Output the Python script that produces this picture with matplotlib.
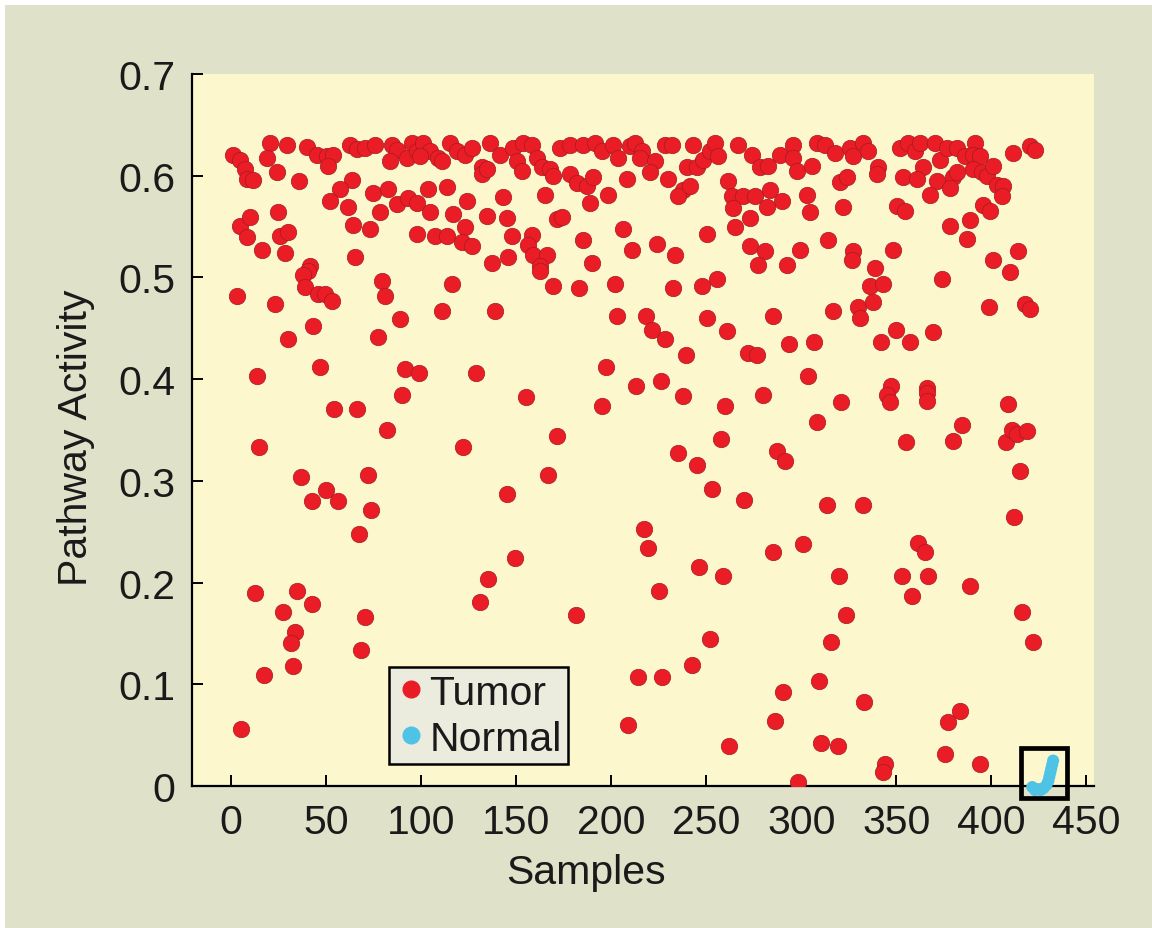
import matplotlib
matplotlib.use("Agg")
import matplotlib.pyplot as plt
from matplotlib.lines import Line2D
from matplotlib.patches import Rectangle

plt.rcParams['font.family'] = ['Liberation Sans', 'DejaVu Sans']

# tumor samples (sample index, pathway activity)
tumor_x = [
    1, 4.7, 7.4, 8.4, 11.6, 20.5, 19, 24, 29.5, 35.8, 40, 45, 50.5, 53.7, 51, 62.6, 66.3, 70.5, 75.8, 63.7,
    57.4, 52, 61.6, 74.7, 82.6, 78.4, 64.2, 73, 84.7, 87.4, 83.7, 92.6, 95.3, 97.9, 87.4, 93.2, 97.9, 97.9,
    4.7, 10, 8.4, 24.7, 25.8, 30, 16.3, 28.4, 65.3, 41.6,
    101, 104.7, 99.5, 109, 111, 115.3, 119, 123, 126.8, 132, 132, 134.7, 136.3, 141.6, 148.4, 153.7, 158.4,
    150.5, 153, 161, 163.7, 168, 169.5, 173, 178.4, 185, 191.6, 195, 201, 203.7, 178.4, 182, 187.4, 190.5,
    208.4, 210, 103.7, 113.7, 124.2, 143.2, 165.3, 189, 198.4, 104.7, 116.8, 134.7, 145.3, 171.6, 174.2,
    123.2, 107.4, 113.7, 147.9, 158.4, 156.3, 121.6, 126.8, 185.3, 206.3, 211, 137.4, 145.8, 159, 166.3,
    162.6, 190,
    212.6, 216.3, 215.3, 223.2, 220.5, 228.4, 232.1, 243.2, 230, 240, 245.3, 248.4, 252.1, 254.7, 256.3,
    266.8, 274.2, 278.4, 282.6, 289, 295.8, 295.8, 297.9, 305.8, 308.4, 312.6, 317.9, 325.8, 327.4, 320.5,
    324.2, 237.9, 235.3, 241.6, 261.6, 263.7, 269.5, 275.8, 264.2, 283.7, 290, 282.1, 303.2, 304.7, 322.1,
    273.2, 265.3, 250.5, 224.2, 233.7, 273.2, 281, 299.5, 314.2, 327.4, 326.8, 277.4, 292.6,
    332.6, 335.3, 340.5, 340, 352.1, 356.3, 360, 362.6, 370.5, 373.2, 376.8, 382.1, 386.3, 391.6, 390.5,
    394.2, 390.5, 395.3, 397.9, 401, 364.2, 353.7, 361, 371.6, 380, 382.1, 378.4, 367.9, 403.2, 406.3,
    405.8, 411.6, 420.5, 423.2, 350.5, 354.7, 395.8, 399.5, 378.4, 388.9, 387.4, 348.4, 414.2, 401, 339,
    40.5, 37.9, 38.9, 45.8, 49.5, 53.2, 3.2, 23.2, 79.5, 81, 116.3, 111, 139, 89, 43.2, 30, 77.4, 46.8,
    91.6, 99, 129, 13.7, 90, 54.2, 66.3, 82.1, 14.7, 122.1, 36.8, 72.1, 50, 42.6, 56.3, 73.7, 67.4,
    162.6, 169.5, 183.2, 202.1, 232.6, 247.9, 255.8, 203.2, 218.4, 221.6, 228.4, 239.5, 250.5, 261, 285.3,
    293.7, 272.1, 276.8, 197.4, 213.2, 226.3, 237.9, 260, 280, 155.3, 195.3, 171.6, 257.9, 235.3, 245.3,
    287.4, 291.6, 166.8, 253.2, 270, 145.3, 217.4,
    336.3, 343.2, 374.2, 410, 316.8, 330, 331, 337.9, 398.9, 417.9, 420.5, 306.8, 342.1, 350, 357.4,
    369.5, 303.7, 321, 347.4, 345.3, 346.8, 366.3, 366.3, 366.3, 409, 308.4, 355.3, 384.7, 380, 407.9,
    411, 413.7, 419, 415.3, 313.7, 332.6, 412.1,
    135.3, 131, 12.6, 34.7, 42.6, 27.4, 33.7, 31.6, 32.6, 70.5, 68.4, 17.4, 5.3,
    219.5, 149.5, 246.3, 259, 225.3, 285.3, 181.6, 252.1, 242.6, 214.2, 226.8, 290.5, 286.3, 209, 262.1,
    298.4,
    301, 361.6, 365.3, 320, 353.2, 366.8, 389, 358.4, 323.7, 416.3, 422.1, 315.8, 309.5, 333.2, 383.7,
    377.4, 310.5, 319.5, 375.8, 394.2, 344.2, 343.2,
]
tumor_y = [
    0.620, 0.615, 0.607, 0.597, 0.596, 0.632, 0.617, 0.604, 0.630, 0.595, 0.628, 0.620, 0.619, 0.620, 0.610,
    0.630, 0.626, 0.627, 0.630, 0.596, 0.587, 0.575, 0.569, 0.583, 0.587, 0.564, 0.552, 0.548, 0.630, 0.625,
    0.614, 0.617, 0.632, 0.624, 0.572, 0.578, 0.573, 0.543, 0.551, 0.559, 0.540, 0.564, 0.541, 0.545, 0.527,
    0.524, 0.520, 0.511,
    0.632, 0.624, 0.619, 0.617, 0.614, 0.632, 0.624, 0.620, 0.627, 0.609, 0.602, 0.607, 0.632, 0.620, 0.627,
    0.632, 0.630, 0.614, 0.605, 0.617, 0.609, 0.607, 0.600, 0.627, 0.630, 0.630, 0.632, 0.624, 0.630, 0.617,
    0.602, 0.593, 0.590, 0.599, 0.597, 0.629, 0.587, 0.589, 0.575, 0.579, 0.581, 0.573, 0.581, 0.564, 0.562,
    0.560, 0.558, 0.557, 0.559, 0.550, 0.541, 0.541, 0.541, 0.542, 0.532, 0.535, 0.531, 0.537, 0.548, 0.527,
    0.514, 0.520, 0.522, 0.522, 0.511, 0.514,
    0.632, 0.624, 0.617, 0.614, 0.604, 0.630, 0.630, 0.630, 0.597, 0.609, 0.609, 0.615, 0.624, 0.632, 0.619,
    0.630, 0.620, 0.609, 0.610, 0.620, 0.630, 0.617, 0.605, 0.610, 0.632, 0.630, 0.622, 0.627, 0.619, 0.594,
    0.599, 0.586, 0.580, 0.590, 0.595, 0.580, 0.580, 0.580, 0.568, 0.586, 0.575, 0.569, 0.581, 0.564, 0.569,
    0.558, 0.550, 0.543, 0.533, 0.522, 0.531, 0.526, 0.527, 0.537, 0.526, 0.517, 0.512, 0.512,
    0.632, 0.624, 0.609, 0.602, 0.627, 0.632, 0.624, 0.632, 0.632, 0.615, 0.627, 0.627, 0.619, 0.632, 0.620,
    0.619, 0.607, 0.604, 0.600, 0.610, 0.609, 0.599, 0.597, 0.595, 0.599, 0.604, 0.588, 0.581, 0.591, 0.590,
    0.580, 0.622, 0.629, 0.625, 0.570, 0.565, 0.571, 0.565, 0.551, 0.556, 0.538, 0.527, 0.526, 0.517, 0.509,
    0.506, 0.502, 0.491, 0.484, 0.484, 0.477, 0.482, 0.474, 0.496, 0.482, 0.494, 0.467, 0.467, 0.459, 0.452,
    0.439, 0.441, 0.412, 0.410, 0.406, 0.406, 0.403, 0.384, 0.371, 0.371, 0.350, 0.333, 0.333, 0.304, 0.306,
    0.291, 0.280, 0.280, 0.271, 0.248,
    0.506, 0.492, 0.490, 0.494, 0.490, 0.492, 0.498, 0.462, 0.462, 0.448, 0.439, 0.424, 0.460, 0.447, 0.462,
    0.435, 0.426, 0.424, 0.412, 0.393, 0.398, 0.383, 0.374, 0.384, 0.382, 0.374, 0.344, 0.341, 0.327, 0.316,
    0.329, 0.320, 0.306, 0.292, 0.281, 0.287, 0.253,
    0.492, 0.494, 0.498, 0.505, 0.467, 0.471, 0.460, 0.476, 0.471, 0.474, 0.469, 0.437, 0.437, 0.448, 0.437,
    0.446, 0.403, 0.378, 0.393, 0.384, 0.378, 0.391, 0.386, 0.379, 0.376, 0.358, 0.338, 0.355, 0.339, 0.338,
    0.350, 0.346, 0.349, 0.310, 0.276, 0.276, 0.264,
    0.204, 0.181, 0.190, 0.192, 0.179, 0.171, 0.151, 0.141, 0.118, 0.166, 0.134, 0.109, 0.056,
    0.234, 0.224, 0.215, 0.206, 0.192, 0.230, 0.168, 0.145, 0.119, 0.107, 0.107, 0.092, 0.064, 0.060, 0.039,
    0.004,
    0.238, 0.239, 0.230, 0.206, 0.206, 0.206, 0.197, 0.187, 0.168, 0.171, 0.142, 0.142, 0.103, 0.083, 0.074,
    0.063, 0.042, 0.039, 0.031, 0.022, 0.022, 0.014,
]

# normal samples
normal_x = [421.5, 423, 424.5, 426, 427.5, 429, 430, 430.5, 431, 431.5, 432, 432.5]
normal_y = [-0.001, -0.004, -0.003, -0.004, -0.002, 0.001, 0.005, 0.009, 0.013, 0.017, 0.021, 0.025]

xticks = [0, 50, 100, 150, 200, 250, 300, 350, 400, 450]
yticks = [0, 0.1, 0.2, 0.3, 0.4, 0.5, 0.6, 0.7]
ytick_labels = ['0', '0.1', '0.2', '0.3', '0.4', '0.5', '0.6', '0.7']

red = '#ea1d26'
blue = '#4fc3e6'
fs = 29.5

fig = plt.figure(figsize=(11.52, 9.29), dpi=100, facecolor='white')
# greenish panel, leaving a thin white strip on the top and left
fig.patches.append(Rectangle((5 / 1152, 0), 1, 1 - 6 / 929, transform=fig.transFigure,
                             facecolor='#e0e1c9', edgecolor='none', zorder=-10))
ax = fig.add_axes([192 / 1152, 1 - 787 / 929, 902 / 1152, 712 / 929])
ax.set_facecolor('#fdf7ce')

ax.scatter(tumor_x, tumor_y, s=140, c=red, edgecolors='#a51a20', linewidths=0.5, zorder=3)
ax.scatter(normal_x, normal_y, s=75, c=blue, edgecolors='none', zorder=4, clip_on=False)

# highlight box round the normal samples
ax.add_patch(Rectangle((415.5, -0.012), 24.5, 0.049, fill=False, edgecolor='black',
                       linewidth=3.4, clip_on=False, zorder=5))

ax.set_xlim(-20.5, 454)
ax.set_ylim(0, 0.7)
ax.set_xticks(xticks)
ax.set_yticks(yticks)
ax.set_yticklabels(ytick_labels)
ax.tick_params(direction='in', length=8, width=1.4, labelsize=fs, pad=12, colors='black',
               labelcolor='#1a1a1a')

for side in ['top', 'right']:
    ax.spines[side].set_visible(False)
for side in ['left', 'bottom']:
    ax.spines[side].set_linewidth(1.6)

ax.set_xlabel('Samples', fontsize=fs, color='#1a1a1a')
ax.set_ylabel('Pathway Activity', fontsize=fs, color='#1a1a1a')
ax.xaxis.set_label_coords(0.437, -0.094)
ax.yaxis.set_label_coords(-0.107, 0.49)

handles = [Line2D([], [], linestyle='none', marker='o', markersize=12, color=red, label='Tumor'),
           Line2D([], [], linestyle='none', marker='o', markersize=12, color=blue, label='Normal')]
leg = ax.legend(handles=handles, loc='lower left', bbox_to_anchor=(0.218, 0.031), borderaxespad=0,
                fontsize=fs, frameon=True, fancybox=False, framealpha=1, facecolor='#ececde',
                edgecolor='black', labelspacing=0.2, borderpad=0.15, handletextpad=0.05,
                handlelength=0.8)
leg.get_frame().set_linewidth(1.8)
for t in leg.get_texts():
    t.set_color('#1a1a1a')
leg.set_zorder(6)

fig.savefig('out.png', dpi=100, facecolor=fig.get_facecolor())
